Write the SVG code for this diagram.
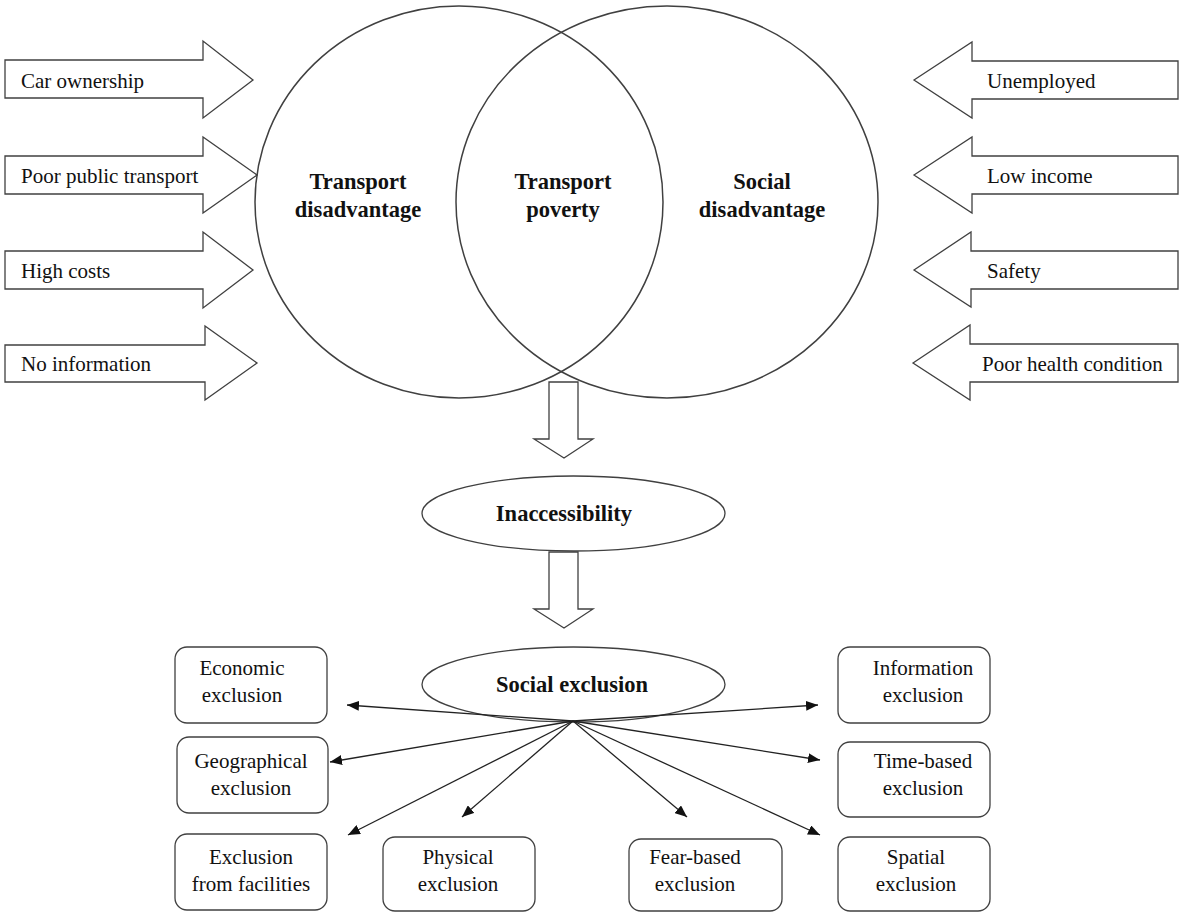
<svg xmlns="http://www.w3.org/2000/svg" width="1179" height="913" viewBox="0 0 1179 913">
<style>
.blk{fill:#fff;stroke:#404040;stroke-width:1.3;stroke-linejoin:miter}
.venn{fill:none;stroke:#404040;stroke-width:1.5}
.ell{fill:#fff;stroke:#404040;stroke-width:1.3}
.box{fill:#fff;stroke:#404040;stroke-width:1.3}
.t{font-family:"Liberation Serif","Times New Roman",serif;font-size:21px;fill:#111}
.b{font-family:"Liberation Serif","Times New Roman",serif;font-size:22.5px;font-weight:bold;fill:#111;text-anchor:middle}
.c{text-anchor:middle}
.con{stroke:#222;stroke-width:1.3;fill:none;marker-end:url(#ah)}
</style>
<defs>
<marker id="ah" viewBox="0 0 12 10" refX="12" refY="5" markerWidth="12" markerHeight="10" markerUnits="userSpaceOnUse" orient="auto">
<path d="M0,0 L12,5 L0,10 z" fill="#111"/>
</marker>
</defs>
<rect width="1179" height="913" fill="#fff"/>

<g id="venn">
<ellipse id="transport-disadvantage-circle" class="venn" cx="459" cy="202" rx="204" ry="196"/>
<ellipse id="social-disadvantage-circle" class="venn" cx="667" cy="202" rx="211" ry="196"/>
</g>
<g id="transport-disadvantage">
<text class="b" x="358" y="189">Transport</text>
<text class="b" x="358" y="217">disadvantage</text>
</g>
<g id="transport-poverty">
<text class="b" x="563" y="189">Transport</text>
<text class="b" x="563" y="217">poverty</text>
</g>
<g id="social-disadvantage">
<text class="b" x="762" y="189">Social</text>
<text class="b" x="762" y="217">disadvantage</text>
</g>

<g id="car-ownership">
<polygon class="blk" points="5,60 203,60 203,41 253,80 203,118 203,98 5,98"/>
<text class="t" x="21" y="88">Car ownership</text>
</g>
<g id="poor-public-transport">
<polygon class="blk" points="5,156 203,156 203,137 257,175 203,213 203,194 5,194"/>
<text class="t" x="21" y="183">Poor public transport</text>
</g>
<g id="high-costs">
<polygon class="blk" points="5,251 203,251 203,232 253,270 203,308 203,289 5,289"/>
<text class="t" x="21" y="278">High costs</text>
</g>
<g id="no-information">
<polygon class="blk" points="5,345 205,345 205,326 257,363 205,400 205,382 5,382"/>
<text class="t" x="21" y="371">No information</text>
</g>

<g id="unemployed">
<polygon class="blk" points="914,80 972,42 972,61 1178,61 1178,99 972,99 972,118"/>
<text class="t" x="987" y="88">Unemployed</text>
</g>
<g id="low-income">
<polygon class="blk" points="914,175 972,137 972,156 1178,156 1178,194 972,194 972,213"/>
<text class="t" x="987" y="183">Low income</text>
</g>
<g id="safety">
<polygon class="blk" points="914,270 971,232 971,251 1178,251 1178,289 971,289 971,307"/>
<text class="t" x="987" y="278">Safety</text>
</g>
<g id="poor-health-condition">
<polygon class="blk" points="913,363 970,325 970,344 1178,344 1178,382 970,382 970,400"/>
<text class="t" x="982" y="371">Poor health condition</text>
</g>

<g id="down-arrow-1">
<polygon class="blk" points="549,382 578,382 578,439 593,439 564,458 534,439 549,439"/>
</g>
<g id="inaccessibility">
<ellipse class="ell" cx="573.5" cy="513.5" rx="151.5" ry="37.5"/>
<text class="b" x="564" y="521">Inaccessibility</text>
</g>
<g id="down-arrow-2">
<polygon class="blk" points="549,552 578,552 578,609 593,609 564,628 534,609 549,609"/>
</g>
<g id="social-exclusion">
<ellipse class="ell" cx="573.5" cy="684.5" rx="151.5" ry="37.5"/>
<text class="b" x="572" y="692">Social exclusion</text>
</g>

<g id="connectors">
<line class="con" x1="573" y1="721" x2="347" y2="705"/>
<line class="con" x1="573" y1="721" x2="330" y2="762"/>
<line class="con" x1="573" y1="721" x2="348" y2="835"/>
<line class="con" x1="573" y1="721" x2="462" y2="817"/>
<line class="con" x1="573" y1="721" x2="687" y2="817"/>
<line class="con" x1="573" y1="721" x2="820" y2="835"/>
<line class="con" x1="573" y1="721" x2="820" y2="760"/>
<line class="con" x1="573" y1="721" x2="818" y2="705"/>
</g>

<g id="economic-exclusion">
<rect class="box" x="175" y="647" width="152" height="76" rx="12"/>
<text class="t c" x="242" y="675">Economic</text>
<text class="t c" x="242" y="702">exclusion</text>
</g>
<g id="geographical-exclusion">
<rect class="box" x="177" y="737" width="151" height="76" rx="12"/>
<text class="t c" x="251" y="768">Geographical</text>
<text class="t c" x="251" y="795">exclusion</text>
</g>
<g id="exclusion-from-facilities">
<rect class="box" x="175" y="834" width="152" height="76" rx="12"/>
<text class="t c" x="251" y="864">Exclusion</text>
<text class="t c" x="251" y="891">from facilities</text>
</g>
<g id="physical-exclusion">
<rect class="box" x="383" y="837" width="152" height="74" rx="12"/>
<text class="t c" x="458" y="864">Physical</text>
<text class="t c" x="458" y="891">exclusion</text>
</g>
<g id="fear-based-exclusion">
<rect class="box" x="629" y="839" width="153" height="72" rx="12"/>
<text class="t c" x="695" y="864">Fear-based</text>
<text class="t c" x="695" y="891">exclusion</text>
</g>
<g id="information-exclusion">
<rect class="box" x="838" y="647" width="152" height="76" rx="12"/>
<text class="t c" x="923" y="675">Information</text>
<text class="t c" x="923" y="702">exclusion</text>
</g>
<g id="time-based-exclusion">
<rect class="box" x="838" y="742" width="152" height="75" rx="12"/>
<text class="t c" x="923" y="768">Time-based</text>
<text class="t c" x="923" y="795">exclusion</text>
</g>
<g id="spatial-exclusion">
<rect class="box" x="838" y="837" width="152" height="74" rx="12"/>
<text class="t c" x="916" y="864">Spatial</text>
<text class="t c" x="916" y="891">exclusion</text>
</g>
</svg>
